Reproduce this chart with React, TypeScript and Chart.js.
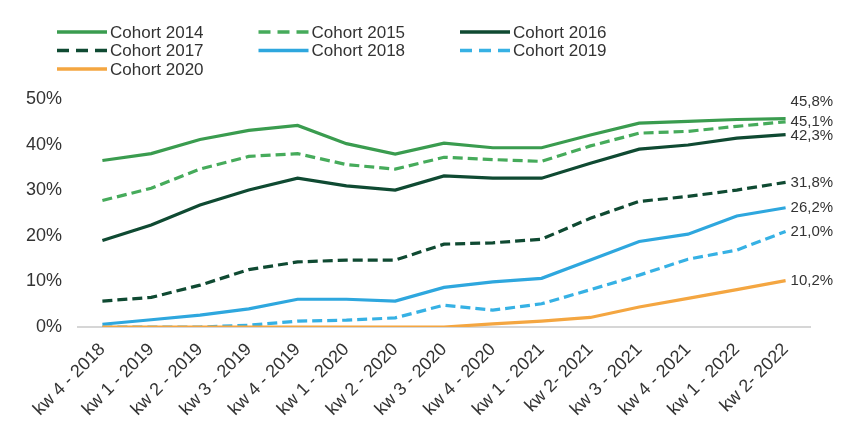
import React, { useEffect, useRef } from "react";
import { Chart, registerables } from "chart.js";

Chart.register(...registerables);

const categories = [
  "kw 4 - 2018", "kw 1 - 2019", "kw 2 - 2019", "kw 3 - 2019", "kw 4 - 2019",
  "kw 1 - 2020", "kw 2 - 2020", "kw 3 - 2020", "kw 4 - 2020", "kw 1 - 2021",
  "kw 2- 2021", "kw 3 - 2021", "kw 4 - 2021", "kw 1 - 2022", "kw 2- 2022",
];

const seriesNames = ["Cohort 2014", "Cohort 2015", "Cohort 2016", "Cohort 2017", "Cohort 2018", "Cohort 2019", "Cohort 2020"];

const cohort2014 = [36.6, 38.1, 41.2, 43.2, 44.3, 40.3, 38.0, 40.4, 39.4, 39.4, 42.2, 44.8, 45.2, 45.6, 45.8];
const cohort2015 = [27.8, 30.5, 34.7, 37.5, 38.1, 35.7, 34.7, 37.3, 36.8, 36.4, 39.8, 42.6, 43.0, 44.1, 45.1];
const cohort2016 = [19.0, 22.4, 26.8, 30.1, 32.7, 31.0, 30.1, 33.2, 32.7, 32.7, 36.0, 39.1, 40.0, 41.5, 42.3];
const cohort2017 = [5.7, 6.5, 9.2, 12.6, 14.3, 14.7, 14.7, 18.2, 18.5, 19.3, 23.9, 27.6, 28.7, 30.1, 31.8];
const cohort2018 = [0.6, 1.6, 2.6, 4.0, 6.1, 6.1, 5.7, 8.7, 9.9, 10.7, 14.7, 18.8, 20.4, 24.4, 26.2];
const cohort2019 = [0, 0, 0, 0.4, 1.3, 1.5, 2.0, 4.8, 3.7, 5.1, 8.2, 11.4, 14.9, 16.9, 21.0];
const cohort2020 = [0, 0, 0, 0, 0, 0, 0, 0, 0.7, 1.3, 2.1, 4.4, 6.3, 8.2, 10.2];

const seriesValues = [cohort2014, cohort2015, cohort2016, cohort2017, cohort2018, cohort2019, cohort2020];

const yMin = 0;
const yMax = 50;
const yStep = 10;

const FONT = "'Liberation Sans', Arial, Helvetica, sans-serif";
const TEXT = "#333333";

const seriesStyles = [
  { color: "#3a9c4f", dashed: false },
  { color: "#46ab5b", dashed: true },
  { color: "#0f4a32", dashed: false },
  { color: "#0f4a32", dashed: true },
  { color: "#2ea7de", dashed: false },
  { color: "#36b1e4", dashed: true },
  { color: "#f4a641", dashed: false },
];

// vertical nudges for end labels (layout only)
const endLabelNudge = [-17, 0, 1, 1, 0, 0, 0];

const fmt = (v: number) => v.toFixed(1).replace(".", ",") + "%";

export default function App() {
  const ref = useRef<HTMLCanvasElement | null>(null);

  useEffect(() => {
    const canvas = ref.current;
    if (!canvas) return;

    const datasets = seriesNames.map((name, i) => ({
      label: name,
      data: seriesValues[i],
      borderColor: seriesStyles[i].color,
      backgroundColor: seriesStyles[i].color,
      borderWidth: 3.2,
      borderDash: seriesStyles[i].dashed ? [10, 5] : [],
      pointRadius: 0,
      tension: 0,
      fill: false,
      order: i === 6 ? -1 : i,
    }));

    const legendPlugin = {
      id: "gridLegend",
      afterDraw(chart: any) {
        const ctx = chart.ctx;
        const left = 49;
        const colW = 201.5;
        const top = 24;
        const rowH = 18.5;
        const lineLen = 50;
        ctx.save();
        seriesNames.forEach((name, i) => {
          const col = i % 3;
          const row = Math.floor(i / 3);
          const x = left + col * colW;
          const y = top + row * rowH;
          ctx.beginPath();
          ctx.setLineDash(seriesStyles[i].dashed ? [12, 7] : []);
          ctx.lineWidth = 3.5;
          ctx.strokeStyle = seriesStyles[i].color;
          ctx.moveTo(x, y);
          ctx.lineTo(x + lineLen, y);
          ctx.stroke();
          ctx.setLineDash([]);
          ctx.fillStyle = TEXT;
          ctx.font = `17px ${FONT}`;
          ctx.textAlign = "left";
          ctx.textBaseline = "middle";
          ctx.fillText(name, x + lineLen + 3, y + 1);
        });
        ctx.restore();
      },
    };

    const endLabelPlugin = {
      id: "endLabels",
      afterDatasetsDraw(chart: any) {
        const ctx = chart.ctx;
        ctx.save();
        ctx.font = `15px ${FONT}`;
        ctx.fillStyle = TEXT;
        ctx.textAlign = "left";
        ctx.textBaseline = "middle";
        chart.data.datasets.forEach((ds: any, i: number) => {
          const meta = chart.getDatasetMeta(i);
          const pts = meta.data;
          const last = pts[pts.length - 1];
          const val = ds.data[ds.data.length - 1];
          ctx.fillText(fmt(val), last.x + 5, last.y + endLabelNudge[i]);
        });
        ctx.restore();
      },
    };

    const chart = new Chart(canvas, {
      type: "line",
      data: { labels: categories, datasets },
      options: {
        responsive: true,
        maintainAspectRatio: false,
        animation: false,
        layout: { padding: { top: 91.5, right: 31, left: 0, bottom: 0 } },
        plugins: {
          legend: { display: false },
          tooltip: { enabled: false },
        },
        scales: {
          x: {
            offset: true,
            grid: { display: false, drawTicks: false },
            border: { display: true, color: "#d6d6d6", width: 2 },
            ticks: {
              autoSkip: false,
              minRotation: 45,
              maxRotation: 45,
              padding: 12,
              color: TEXT,
              font: { family: FONT, size: 18 },
            },
            afterFit(s: any) {
              s.height = 92;
              s.paddingLeft = 0;
              s.paddingRight = 0;
            },
          },
          y: {
            min: yMin,
            max: yMax,
            grid: { display: false, drawTicks: false },
            border: { display: false },
            ticks: {
              stepSize: yStep,
              padding: 16,
              color: TEXT,
              font: { family: FONT, size: 18 },
              callback: (v: any) => `${v}%`,
            },
            afterFit(s: any) {
              s.width = 70;
              s.paddingTop = 0;
              s.paddingBottom = 0;
            },
          },
        },
      },
      plugins: [legendPlugin, endLabelPlugin],
    } as any);

    return () => chart.destroy();
  }, []);

  return (
    <div style={{ position: "relative", width: 833, height: 411 }}>
      <canvas ref={ref} />
    </div>
  );
}
